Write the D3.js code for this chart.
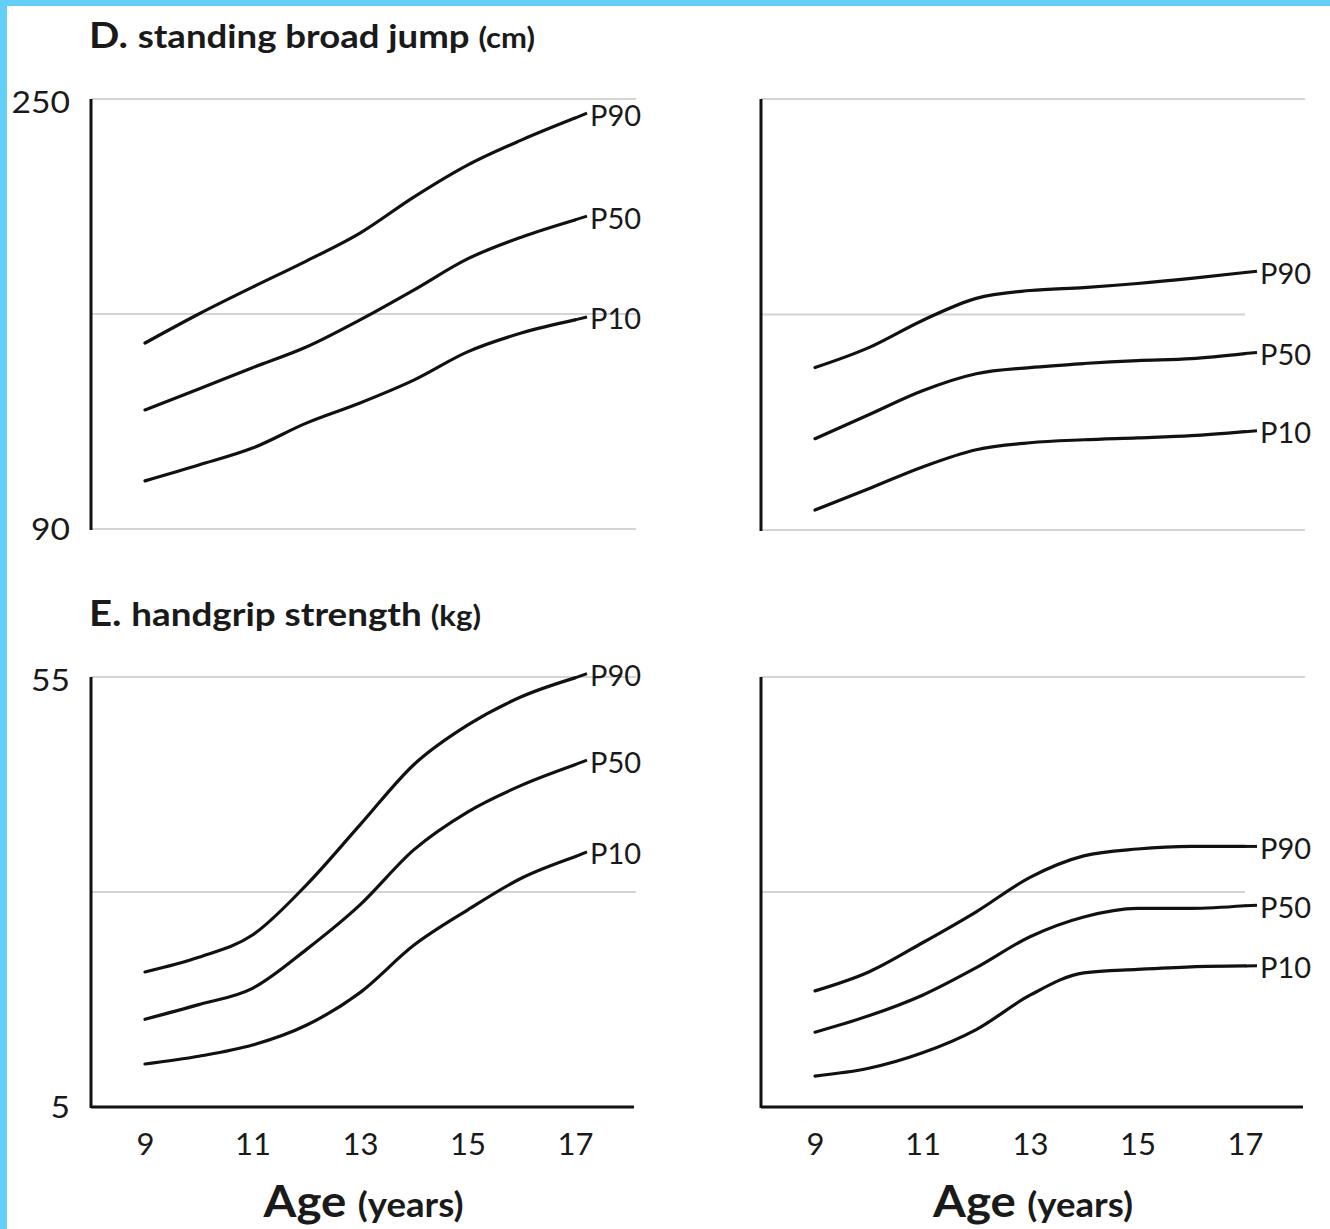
<!DOCTYPE html>
<html>
<head>
<meta charset="utf-8">
<script src="https://cdn.jsdelivr.net/npm/d3@7"></script>
<style>
  html, body { margin: 0; padding: 0; background: #fff; }
  svg { display: block; }
  text { font-family: Lato, "Open Sans", sans-serif; fill: #1a1a1a; }
</style>
</head>
<body>
<svg id="chart" width="1330" height="1229"></svg>
<script>
// Ages (years) at which percentiles are reported
const ages = [9, 10, 11, 12, 13, 14, 15, 16, 17];
const ageTicks = [9, 11, 13, 15, 17];
const percentileNames = ["P90", "P50", "P10"];

// D. standing broad jump (cm)
const jumpTicks = [250, 90];
const jumpGrid = [250, 170, 90];
const jumpBoysP90 = [159.2, 170.0, 180.0, 189.7, 200.1, 213.5, 225.4, 234.7, 242.9];
const jumpBoysP50 = [134.3, 142.1, 150.0, 157.7, 167.8, 178.9, 190.5, 198.6, 205.0];
const jumpBoysP10 = [107.9, 113.8, 120.1, 129.4, 136.9, 145.4, 155.9, 162.9, 167.8];
const jumpGirlsP90 = [150.3, 157.7, 167.8, 176.0, 178.9, 180.0, 181.5, 183.4, 185.6];
const jumpGirlsP50 = [123.9, 132.8, 141.7, 148.0, 150.3, 151.8, 152.9, 153.6, 155.5];
const jumpGirlsP10 = [97.4, 105.3, 113.4, 119.8, 122.4, 123.5, 124.2, 125.0, 126.5];

// E. handgrip strength (kg)
const gripTicks = [55, 5];
const gripGrid = [55, 30, 5];
const gripBoysP90 = [20.7, 22.4, 25.0, 30.8, 37.8, 44.8, 49.4, 52.7, 54.9];
const gripBoysP50 = [15.2, 16.9, 18.8, 23.3, 28.5, 34.9, 39.3, 42.4, 44.8];
const gripBoysP10 = [10.0, 10.9, 12.2, 14.5, 18.3, 23.8, 27.9, 31.6, 34.1];
const gripGirlsP90 = [18.5, 20.7, 24.1, 27.7, 31.7, 34.2, 35.0, 35.3, 35.3];
const gripGirlsP50 = [13.7, 15.6, 18.0, 21.2, 24.8, 27.1, 28.1, 28.1, 28.4];
const gripGirlsP10 = [8.6, 9.5, 11.3, 14.0, 18.0, 20.6, 21.0, 21.3, 21.4];

const svg = d3.select("#chart");

// light blue frame along the top and left edges
svg.append("rect").attr("x", 0).attr("y", 0).attr("width", 1330).attr("height", 6).attr("fill", "#63cef6");
svg.append("rect").attr("x", 0).attr("y", 0).attr("width", 7).attr("height", 1229).attr("fill", "#63cef6");

const panels = [
  { left: 91, right: 636, top: 99, bottom: 529, domain: [90, 250], grid: jumpGrid, ticks: jumpTicks,
    midEnd: 636, series: [jumpBoysP90, jumpBoysP50, jumpBoysP10], baseAxis: false },
  { left: 761, right: 1305, top: 99, bottom: 530, domain: [90, 250], grid: jumpGrid, ticks: [],
    midEnd: 1245, series: [jumpGirlsP90, jumpGirlsP50, jumpGirlsP10], baseAxis: false },
  { left: 91, right: 636, top: 677, bottom: 1107, domain: [5, 55], grid: gripGrid, ticks: gripTicks,
    midEnd: 636, series: [gripBoysP90, gripBoysP50, gripBoysP10], baseAxis: true },
  { left: 761, right: 1305, top: 677, bottom: 1107, domain: [5, 55], grid: gripGrid, ticks: [],
    midEnd: 1245, series: [gripGirlsP90, gripGirlsP50, gripGirlsP10], baseAxis: true }
];

const FONT = "Lato, 'Open Sans', sans-serif";

panels.forEach(p => {
  const g = svg.append("g");
  // age 9 sits 54px right of the axis, 53.75px per year
  const x = d3.scaleLinear().domain([9, 17]).range([p.left + 54, p.left + 54 + 8 * 53.75]);
  const y = d3.scaleLinear().domain(p.domain).range([p.bottom, p.top]);

  // horizontal gridlines
  p.grid.forEach((v, i) => {
    if (p.baseAxis && v === p.domain[0]) return;
    const end = (i === 1) ? p.midEnd : p.right;
    g.append("line")
      .attr("x1", p.left).attr("x2", end)
      .attr("y1", y(v)).attr("y2", y(v))
      .attr("stroke", "#d4d4d4").attr("stroke-width", 2);
  });

  // vertical axis line
  g.append("line")
    .attr("x1", p.left).attr("x2", p.left)
    .attr("y1", p.top).attr("y2", p.bottom + 1)
    .attr("stroke", "#111").attr("stroke-width", 3);

  // y tick labels (extremes only), widened glyphs
  p.ticks.forEach((v, i) => {
    const s = String(v);
    g.append("text")
      .attr("x", p.left - 21).attr("y", y(v) + (i === 0 ? 3 : 0))
      .attr("dy", "0.36em")
      .attr("text-anchor", "end")
      .attr("font-size", 31)
      .attr("textLength", s.length * 19.5)
      .attr("lengthAdjust", "spacingAndGlyphs")
      .text(s);
  });

  // baseline and age axis
  if (p.baseAxis) {
    g.append("line")
      .attr("x1", p.left).attr("x2", p.right - 2)
      .attr("y1", p.bottom).attr("y2", p.bottom)
      .attr("stroke", "#111").attr("stroke-width", 3);
    const xa = d3.axisBottom(x).tickValues(ageTicks).tickSize(0).tickPadding(26);
    const ag = g.append("g").attr("transform", `translate(0,${p.bottom})`).call(xa);
    ag.select(".domain").remove();
    ag.selectAll("text").attr("font-size", 31).attr("font-family", FONT).attr("fill", "#1a1a1a");
    const cx = (p.left + p.right) / 2;
    const t = g.append("text").attr("x", cx).attr("y", 1217).attr("text-anchor", "middle")
      .attr("font-weight", 700)
      .attr("textLength", 200).attr("lengthAdjust", "spacingAndGlyphs");
    t.append("tspan").attr("font-size", 44).text("Age ");
    t.append("tspan").attr("font-size", 34).text("(years)");
  }

  // percentile curves
  const line = d3.line()
    .x((d, i) => x(ages[i]))
    .y(d => y(d))
    .curve(d3.curveMonotoneX);

  p.series.forEach((s, k) => {
    g.append("path")
      .attr("d", line(s))
      .attr("fill", "none")
      .attr("stroke", "#111")
      .attr("stroke-width", 3.2)
      .attr("stroke-linecap", "round");
    const xe = x(ages[ages.length - 1]);
    const ye = y(s[s.length - 1]);
    const prev = y(s[s.length - 2]);
    const slope = (ye - prev) / (x(ages[ages.length - 1]) - x(ages[ages.length - 2]));
    g.append("line")
      .attr("x1", xe).attr("y1", ye)
      .attr("x2", xe + 12).attr("y2", ye + slope * 12)
      .attr("stroke", "#111").attr("stroke-width", 3);
    g.append("text")
      .attr("x", xe + 15).attr("y", ye + slope * 12 + 2)
      .attr("dy", "0.36em")
      .attr("font-size", 29)
      .text(percentileNames[k]);
  });
});

// panel titles
function title(yPos, letter, name, unit, width) {
  const t = svg.append("text").attr("x", 89).attr("y", yPos).attr("font-weight", 700)
    .attr("textLength", width).attr("lengthAdjust", "spacingAndGlyphs");
  t.append("tspan").attr("font-size", 36).text(letter + " ");
  t.append("tspan").attr("font-size", 33).text(name + " ");
  t.append("tspan").attr("font-size", 28).text(unit);
}
title(48, "D.", "standing broad jump", "(cm)", 446);
title(626, "E.", "handgrip strength", "(kg)", 392);
</script>
</body>
</html>
